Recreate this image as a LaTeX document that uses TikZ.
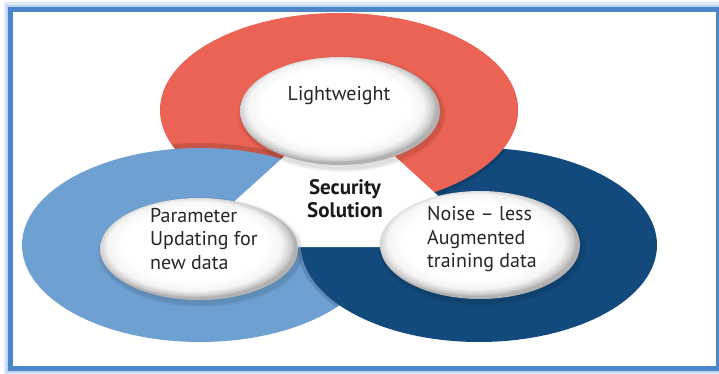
\documentclass[tikz,border=0pt]{standalone}
\usepackage{fontspec}
\setmainfont{PT Sans}
\usetikzlibrary{shapes.geometric}
\definecolor{ringred}{HTML}{EA6354}
\definecolor{ringlight}{HTML}{6EA0D2}
\definecolor{ringdark}{HTML}{124A7D}
\definecolor{frameblue}{HTML}{4C86C8}
\definecolor{glowblue}{HTML}{A8C6EA}
\pgfdeclareradialshading{rim}{\pgfpoint{-2bp}{3bp}}{color(0bp)=(white); color(18bp)=(white); color(22bp)=(black!4); color(24.3bp)=(black!20); color(25bp)=(black!30); color(50bp)=(black!30)}
\begin{document}
\begin{tikzpicture}[x=1pt,y=-1pt,
  ovalbox/.style={ellipse, inner sep=0pt, shading=rim, shade},
  ringshadow/.style={black, opacity=0.14},
  lbl/.style={font=\fontsize{20}{23.5}\selectfont, inner sep=0pt, align=left, text=black!85},
  boldlbl/.style={font=\bfseries\fontsize{21}{23}\selectfont, inner sep=0pt, align=center, text=black!90}]
\useasboundingbox (0,0) rectangle (719,374);
% frame glow and white panel
\draw[glowblue, line width=14pt, opacity=0.35] (10.5,9.5) rectangle (718.5,368.5);
\draw[glowblue, line width=9pt, opacity=0.6] (10.5,9.5) rectangle (718.5,368.5);
\fill[white] (13,12) rectangle (716,366);
% rings
\fill[ringred] (339,110) ellipse [x radius=179pt, y radius=97pt];
\begin{scope}
  \clip (339,110) ellipse [x radius=179pt, y radius=97pt];
  \fill[ringshadow] (200,243) ellipse [x radius=180pt, y radius=100pt];
\end{scope}
\fill[ringlight] (200,245) ellipse [x radius=178pt, y radius=97pt];
\begin{scope}
  \clip (200,245) ellipse [x radius=178pt, y radius=97pt];
  \fill[ringshadow] (477,245) ellipse [x radius=180pt, y radius=99pt];
\end{scope}
\fill[ringdark] (479,245) ellipse [x radius=178pt, y radius=97pt];
\begin{scope}
  \clip (398,0) rectangle (719,260);
  \begin{scope}
    \clip (479,245) ellipse [x radius=178pt, y radius=97pt];
    \fill[ringshadow] (340,112) ellipse [x radius=180pt, y radius=99pt];
  \end{scope}
  \fill[ringred] (339,110) ellipse [x radius=179pt, y radius=97pt];
\end{scope}
% central triangle
\fill[white] (340,106) -- (184,247) -- (494,247) -- cycle;
% ellipse shadows
\foreach \cx/\cy/\rx/\ry in {340/111/100/54, 199/249/99/51, 480/245/100/54}{
  \fill[black, opacity=0.05] (\cx+2,\cy+3) ellipse [x radius=\rx pt+4pt, y radius=\ry pt+4pt];
  \fill[black, opacity=0.07] (\cx+2,\cy+3) ellipse [x radius=\rx pt+2pt, y radius=\ry pt+2pt];
}
% white ovals
\node[ovalbox, minimum width=200pt, minimum height=108pt] (lw) at (340,111) {};
\node[ovalbox, minimum width=198pt, minimum height=102pt] (pu) at (199,249) {};
\node[ovalbox, minimum width=200pt, minimum height=108pt] (nl) at (480,245) {};
% texts
\node[lbl, anchor=base] (lwt) at (339,101) {Lightweight};
\node[lbl, anchor=north west] (put) at (150,208) {Parameter\\Updating for\\new data};
\node[lbl, anchor=north west] (nlt) at (427,206.5) {Noise – less\\Augmented\\training data};
\node[boldlbl, anchor=north] (sst) at (345,179.5) {Security\\Solution};
% frame border
\draw[frameblue, line width=5pt] (10.5,9.5) rectangle (718.5,368.5);
\end{tikzpicture}
\end{document}
